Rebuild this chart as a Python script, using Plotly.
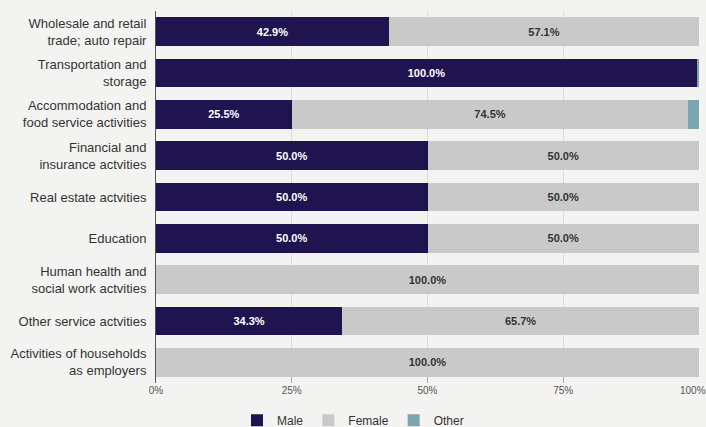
import plotly.graph_objects as go

# Workforce split by gender for each sector (percent of male + female staff;
# "Other" is the small additional share reported on top of that)
sectors = [
    "Wholesale and retail<br>trade; auto repair",
    "Transportation and<br>storage",
    "Accommodation and<br>food service activities",
    "Financial and<br>insurance actvities",
    "Real estate actvities",
    "Education",
    "Human health and<br>social work actvities",
    "Other service actvities",
    "Activities of households<br>as employers",
]
male = [42.9, 100.0, 25.5, 50.0, 50.0, 50.0, 0.0, 34.3, 0.0]
female = [57.1, 0.0, 74.5, 50.0, 50.0, 50.0, 100.0, 65.7, 100.0]
other = [0.0, 0.4, 2.0, 0.0, 0.0, 0.0, 0.0, 0.0, 0.0]

x_ticks = [0, 25, 50, 75, 100]
x_tick_labels = ["0%", "25%", "50%", "75%", "100%"]

NAVY = "#1f1450"
GREY = "#c9c9c9"
TEAL = "#7aa6b0"
BG = "#f3f3f1"
FONT = "Liberation Sans, Arial"


def labels(values):
    return [f"{v:.1f}%" if v > 0 else "" for v in values]


fig = go.Figure()
fig.add_trace(go.Bar(
    name="Male", y=sectors, x=male, orientation="h",
    marker=dict(color=NAVY, line=dict(width=0)),
    text=labels(male), texttemplate="%{text}", textposition="inside",
    insidetextanchor="middle", textangle=0,
    textfont=dict(color="white", size=11, family=FONT, weight="bold"),
    hoverinfo="skip",
))
fig.add_trace(go.Bar(
    name="Female", y=sectors, x=female, orientation="h",
    marker=dict(color=GREY, line=dict(width=0)),
    text=labels(female), texttemplate="%{text}", textposition="inside",
    insidetextanchor="middle", textangle=0,
    textfont=dict(color="#333333", size=11, family=FONT, weight="bold"),
    hoverinfo="skip",
))
fig.add_trace(go.Bar(
    name="Other", y=sectors, x=other, orientation="h",
    marker=dict(color=TEAL, line=dict(width=0)),
    hoverinfo="skip",
))

fig.update_layout(
    template="none",
    width=706, height=427,
    barmode="stack", barnorm="percent", bargap=0.3,
    paper_bgcolor=BG, plot_bgcolor=BG,
    margin=dict(l=156, r=7, t=11, b=44),
    font=dict(family=FONT, color="#333333", size=12),
    showlegend=True,
    legend=dict(
        orientation="h", x=0.5, xref="container", xanchor="center",
        y=0.05, yref="container", yanchor="top",
        font=dict(size=12, color="#333333"),
        traceorder="normal",
        bgcolor="rgba(0,0,0,0)",
    ),
    xaxis=dict(
        range=[0, 100], tickvals=x_ticks, ticktext=x_tick_labels,
        showgrid=True, gridcolor="#dcdcdc", gridwidth=1,
        ticks="inside", ticklen=6, tickcolor="#aaaaaa",
        tickfont=dict(size=10, color="#555555"),
        zeroline=False, showline=False, automargin=False,
    ),
    yaxis=dict(
        autorange="reversed", showgrid=False,
        showline=True, linecolor="#555555", linewidth=1,
        ticks="", ticklabelstandoff=6,
        tickfont=dict(size=13, color="#333333"),
        automargin=False,
    ),
)

# The right-most tick label would overflow the page edge, so place it by hand
fig.add_annotation(
    x=100, xref="x", y=0, yref="paper", yshift=0, xshift=-6,
    text=x_tick_labels[-1], showarrow=False,
    xanchor="center", yanchor="top",
    font=dict(size=10, color="#555555", family=FONT),
)

fig.write_html("out.html")
